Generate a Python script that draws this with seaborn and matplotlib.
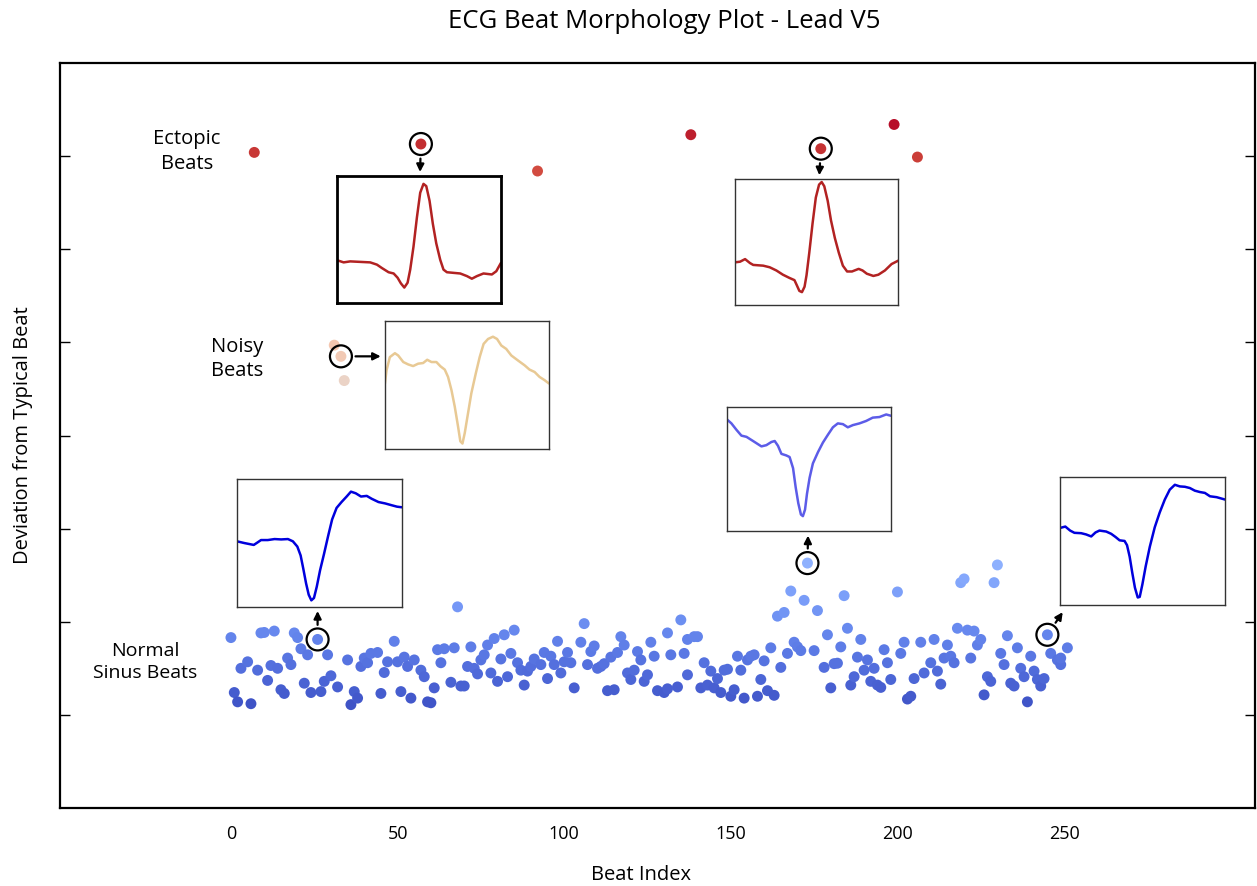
import matplotlib
matplotlib.use("Agg")
import matplotlib.pyplot as plt
import numpy as np
import pandas as pd
import seaborn as sns

# ---------------- data ----------------
normal_beat = [0, 1, 2, 3, 5, 6, 8, 9, 10, 11, 12, 13, 14, 15, 16, 17, 18, 19, 20, 21,
               22, 23, 24, 26, 27, 28, 29, 30, 32, 35, 36, 37, 38, 39, 40, 41, 42, 44, 45, 46,
               47, 49, 50, 51, 52, 53, 54, 55, 57, 58, 59, 60, 61, 62, 63, 64, 66, 67, 68, 69,
               70, 71, 72, 73, 74, 75, 76, 77, 78, 79, 80, 81, 82, 83, 84, 85, 86, 87, 88, 89,
               90, 91, 93, 94, 95, 96, 97, 98, 99, 100, 101, 102, 103, 105, 106, 107, 108, 109, 110, 111,
               112, 113, 114, 115, 116, 117, 118, 119, 120, 121, 122, 123, 124, 125, 126, 127, 128, 130, 131, 131,
               132, 134, 135, 136, 137, 137, 139, 140, 141, 142, 143, 144, 145, 146, 147, 148, 149, 150, 151, 152,
               153, 154, 155, 156, 157, 158, 159, 160, 161, 162, 163, 164, 165, 166, 167, 168, 169, 170, 171, 172,
               173, 175, 176, 178, 179, 180, 181, 182, 183, 184, 185, 186, 187, 188, 189, 190, 191, 192, 193, 194,
               195, 196, 197, 198, 200, 201, 202, 203, 204, 205, 207, 208, 210, 211, 212, 213, 214, 215, 216, 217,
               218, 219, 220, 221, 222, 223, 224, 225, 226, 227, 228, 229, 230, 231, 232, 233, 234, 235, 236, 237,
               238, 239, 240, 241, 242, 243, 244, 245, 246, 248, 249, 249, 251]
normal_dev = [0.83, 0.24, 0.14, 0.50, 0.57, 0.12, 0.48, 0.88, 0.885, 0.37, 0.53, 0.90, 0.50, 0.27, 0.23, 0.61, 0.54, 0.88, 0.83, 0.71,
              0.34, 0.645, 0.24, 0.81, 0.25, 0.36, 0.645, 0.42, 0.30, 0.59, 0.11, 0.25, 0.18, 0.52, 0.61, 0.56, 0.66, 0.67, 0.23, 0.455,
              0.57, 0.79, 0.57, 0.25, 0.62, 0.52, 0.18, 0.59, 0.48, 0.41, 0.14, 0.13, 0.29, 0.70, 0.56, 0.71, 0.35, 0.72, 1.16, 0.31,
              0.31, 0.52, 0.73, 0.50, 0.44, 0.59, 0.645, 0.75, 0.45, 0.82, 0.36, 0.60, 0.86, 0.41, 0.66, 0.91, 0.56, 0.48, 0.32, 0.47,
              0.52, 0.60, 0.54, 0.67, 0.39, 0.63, 0.54, 0.79, 0.45, 0.57, 0.67, 0.56, 0.29, 0.78, 0.98, 0.54, 0.68, 0.74, 0.50, 0.52,
              0.55, 0.26, 0.62, 0.27, 0.67, 0.84, 0.75, 0.45, 0.38, 0.48, 0.68, 0.59, 0.36, 0.43, 0.78, 0.63, 0.26, 0.24, 0.28, 0.88,
              0.645, 0.30, 1.02, 0.66, 0.43, 0.81, 0.84, 0.84, 0.29, 0.56, 0.32, 0.47, 0.29, 0.39, 0.24, 0.48, 0.49, 0.20, 0.27, 0.63,
              0.48, 0.18, 0.59, 0.63, 0.645, 0.20, 0.38, 0.58, 0.26, 0.72, 0.21, 1.06, 0.51, 1.10, 0.66, 1.33, 0.78, 0.73, 0.69, 1.23,
              1.63, 0.69, 1.12, 0.51, 0.86, 0.29, 0.55, 0.555, 0.73, 1.28, 0.93, 0.32, 0.41, 0.62, 0.81, 0.48, 0.59, 0.36, 0.50, 0.32,
              0.295, 0.70, 0.56, 0.38, 1.32, 0.66, 0.78, 0.17, 0.20, 0.39, 0.78, 0.45, 0.56, 0.81, 0.47, 0.33, 0.61, 0.75, 0.63, 0.56,
              0.93, 1.42, 1.46, 0.91, 0.61, 0.90, 0.75, 0.81, 0.215, 0.41, 0.36, 1.42, 1.61, 0.66, 0.54, 0.85, 0.34, 0.31, 0.72, 0.50,
              0.41, 0.14, 0.63, 0.47, 0.38, 0.31, 0.39, 0.86, 0.66, 0.59, 0.54, 0.61, 0.72]

ectopic_beat = [7, 57, 92, 138, 177, 199, 206]
ectopic_dev = [6.04, 6.13, 5.84, 6.23, 6.08, 6.34, 5.99]

noisy_beat = [31, 33, 34]
noisy_dev = [3.97, 3.85, 3.59]

group_labels = ["Ectopic\nBeats", "Noisy\nBeats", "Normal\nSinus Beats"]
x_ticks = [0, 50, 100, 150, 200, 250]

# example waveforms shown in the insets (normalised time / amplitude)
ect1_t = [0.004, 0.041, 0.081, 0.203, 0.244, 0.274, 0.315, 0.346, 0.370, 0.390, 0.411, 0.431, 0.447, 0.467,
          0.488, 0.508, 0.528, 0.545, 0.565, 0.585, 0.606, 0.630, 0.650, 0.671, 0.711, 0.752, 0.793, 0.823,
          0.854, 0.894, 0.945, 0.972, 1.000]
ect1_v = [0.344, 0.328, 0.336, 0.328, 0.310, 0.283, 0.249, 0.239, 0.205, 0.160, 0.126, 0.165, 0.270, 0.454,
          0.690, 0.887, 0.958, 0.940, 0.822, 0.638, 0.480, 0.349, 0.270, 0.249, 0.244, 0.239, 0.218, 0.197,
          0.218, 0.239, 0.231, 0.257, 0.323]

ect2_t = [0.0, 0.030, 0.061, 0.091, 0.111, 0.172, 0.212, 0.253, 0.293, 0.333, 0.364, 0.378, 0.394, 0.410,
          0.426, 0.438, 0.455, 0.475, 0.495, 0.515, 0.531, 0.547, 0.568, 0.588, 0.612, 0.636, 0.661, 0.687,
          0.717, 0.758, 0.782, 0.808, 0.848, 0.879, 0.919, 0.960, 1.0]
ect2_v = [0.346, 0.351, 0.372, 0.340, 0.325, 0.319, 0.306, 0.280, 0.246, 0.220, 0.202, 0.162, 0.115, 0.105,
          0.149, 0.241, 0.424, 0.660, 0.869, 0.974, 0.995, 0.961, 0.843, 0.686, 0.542, 0.424, 0.319, 0.272,
          0.272, 0.293, 0.280, 0.254, 0.236, 0.246, 0.280, 0.332, 0.359]

noisy_t = [0.0, 0.010, 0.030, 0.061, 0.081, 0.112, 0.142, 0.172, 0.203, 0.233, 0.258, 0.284, 0.314, 0.339,
           0.365, 0.385, 0.406, 0.426, 0.446, 0.460, 0.473, 0.487, 0.507, 0.527, 0.554, 0.578, 0.602, 0.629,
           0.659, 0.684, 0.710, 0.740, 0.771, 0.811, 0.852, 0.882, 0.913, 0.943, 0.974, 1.0]
noisy_v = [0.524, 0.628, 0.733, 0.764, 0.746, 0.694, 0.675, 0.662, 0.681, 0.686, 0.712, 0.694, 0.694, 0.660,
           0.634, 0.576, 0.471, 0.340, 0.183, 0.065, 0.047, 0.131, 0.288, 0.445, 0.602, 0.733, 0.838, 0.877,
           0.895, 0.877, 0.825, 0.798, 0.746, 0.707, 0.668, 0.634, 0.615, 0.576, 0.550, 0.524]

norm_mid_t = [0.0, 0.026, 0.057, 0.087, 0.118, 0.158, 0.209, 0.239, 0.270, 0.290, 0.310, 0.331, 0.361, 0.381,
              0.402, 0.418, 0.434, 0.450, 0.462, 0.475, 0.487, 0.503, 0.523, 0.554, 0.584, 0.615, 0.645, 0.675,
              0.706, 0.736, 0.767, 0.807, 0.848, 0.888, 0.929, 0.970, 1.0]
norm_mid_v = [0.914, 0.883, 0.830, 0.783, 0.773, 0.739, 0.695, 0.705, 0.731, 0.739, 0.700, 0.634, 0.621, 0.608,
              0.517, 0.360, 0.230, 0.138, 0.125, 0.178, 0.308, 0.439, 0.556, 0.648, 0.726, 0.791, 0.851, 0.883,
              0.877, 0.851, 0.869, 0.883, 0.903, 0.930, 0.935, 0.956, 0.945]

norm_left_t = [0.0, 0.045, 0.102, 0.126, 0.146, 0.187, 0.228, 0.268, 0.309, 0.339, 0.366, 0.386, 0.402, 0.419,
               0.435, 0.451, 0.467, 0.484, 0.504, 0.528, 0.553, 0.577, 0.604, 0.634, 0.665, 0.691, 0.720, 0.752,
               0.787, 0.817, 0.858, 0.898, 0.939, 0.970, 1.0]
norm_left_v = [0.524, 0.510, 0.495, 0.516, 0.534, 0.534, 0.542, 0.539, 0.542, 0.524, 0.482, 0.411, 0.306, 0.188,
               0.097, 0.052, 0.071, 0.162, 0.293, 0.424, 0.568, 0.699, 0.791, 0.838, 0.882, 0.921, 0.908, 0.882,
               0.887, 0.864, 0.838, 0.827, 0.812, 0.801, 0.796]

norm_right_t = [0.0, 0.032, 0.061, 0.087, 0.128, 0.158, 0.189, 0.215, 0.239, 0.280, 0.310, 0.337, 0.361, 0.391,
                0.406, 0.422, 0.438, 0.454, 0.471, 0.483, 0.499, 0.519, 0.544, 0.574, 0.604, 0.635, 0.665, 0.696,
                0.726, 0.757, 0.787, 0.817, 0.848, 0.878, 0.909, 0.949, 1.0]
norm_right_v = [0.616, 0.627, 0.595, 0.577, 0.574, 0.564, 0.548, 0.580, 0.595, 0.587, 0.569, 0.543, 0.517, 0.512,
                0.478, 0.386, 0.256, 0.138, 0.060, 0.065, 0.164, 0.308, 0.465, 0.621, 0.739, 0.843, 0.922, 0.961,
                0.948, 0.945, 0.935, 0.914, 0.903, 0.896, 0.869, 0.862, 0.843]

# ---------------- build table ----------------
df = pd.DataFrame({
    "beat": normal_beat + ectopic_beat + noisy_beat,
    "dev": normal_dev + ectopic_dev + noisy_dev,
    "kind": ["normal"] * len(normal_beat) + ["ectopic"] * len(ectopic_beat) + ["noisy"] * len(noisy_beat),
})

sns.set_style("white")
plt.rcParams["font.family"] = ["Open Sans", "DejaVu Sans"]
plt.rcParams["text.color"] = "black"
plt.rcParams["axes.labelcolor"] = "black"
plt.rcParams["xtick.color"] = "black"
plt.rcParams["ytick.color"] = "black"

W, H = 1257, 886
fig = plt.figure(figsize=(W / 100, H / 100), dpi=100)
ax = fig.add_axes([60 / W, 1 - 808 / H, (1255 - 60) / W, (808 - 63) / H])

sns.scatterplot(data=df, x="beat", y="dev", hue="dev", palette="coolwarm",
                hue_norm=(0, 6.4), s=62, edgecolor="none", linewidth=0,
                legend=False, ax=ax, zorder=3)

ax.set_xlim(-51.3, 307.3)
ax.set_ylim(-1, 7)
ax.set_xticks(x_ticks)
ax.set_yticks(range(7))
ax.set_yticklabels([])
ax.tick_params(axis="y", direction="in", length=7, width=1, left=True, right=True)
ax.tick_params(axis="x", direction="in", length=0, bottom=True, labelsize=13, pad=12)
for sp in ax.spines.values():
    sp.set_linewidth(1.6)
    sp.set_color("black")

ax.set_xlabel("Beat Index", fontsize=14.5)
ax.xaxis.set_label_coords(0.486, -0.076)
ax.set_ylabel("Deviation from Typical Beat", fontsize=14.5, labelpad=16)
ax.set_title("ECG Beat Morphology Plot - Lead V5", fontsize=18.5, x=0.506, pad=25)

# group labels
ax.text(-13.2, 6.05, group_labels[0], ha="center", va="center", fontsize=14.5, linespacing=1.3)
ax.text(1.8, 3.82, group_labels[1], ha="center", va="center", fontsize=14.5, linespacing=1.3)
ax.text(-25.8, 0.57, group_labels[2], ha="center", va="center", fontsize=14, linespacing=1.3)

# ---------------- insets ----------------
insets = [
    # (bounds in data coords, t, v, colour, border width, border colour, highlighted beat, kind, arrow target)
    ([31.8, 4.42, 49.2, 1.365], ect1_t, ect1_v, "#b22222", 2.0, "black", 57, "ectopic", (56.7, 5.785)),
    ([151.3, 4.40, 48.9, 1.355], ect2_t, ect2_v, "#b22222", 1.0, "#333333", 177, "ectopic", (176.5, 5.75)),
    ([46.2, 2.85, 49.2, 1.38], noisy_t, noisy_v, "#e8c994", 1.0, "#333333", 33, "noisy", (46.2, 3.85)),
    ([148.9, 1.97, 49.2, 1.34], norm_mid_t, norm_mid_v, "#5c5ce8", 1.0, "#333333", 173, "normal", (173.2, 1.97)),
    ([1.8, 1.16, 49.5, 1.37], norm_left_t, norm_left_v, "#0000dd", 1.0, "#333333", 26, "normal", (26.0, 1.16)),
    ([248.8, 1.18, 49.5, 1.37], norm_right_t, norm_right_v, "#0000dd", 1.0, "#333333", 245, "normal", (250.3, 1.14)),
]

for bounds, t, v, col, bw, bc, hb, kind, target in insets:
    ia = ax.inset_axes(bounds, transform=ax.transData, zorder=5)
    sns.lineplot(x=t, y=v, ax=ia, color=col, linewidth=1.8, sort=False)
    ia.set_xlim(0, 1)
    ia.set_ylim(0.0, 1.02)
    ia.set_xticks([])
    ia.set_yticks([])
    ia.set_facecolor("white")
    for sp in ia.spines.values():
        sp.set_linewidth(bw)
        sp.set_color(bc)
    sub = df[(df["beat"] == hb) & (df["kind"] == kind)].iloc[0]
    ax.scatter([sub["beat"]], [sub["dev"]], s=250, facecolors="none",
               edgecolors="black", linewidths=1.6, zorder=6)
    ax.annotate("", xy=target, xytext=(sub["beat"], sub["dev"]),
                arrowprops=dict(arrowstyle="-|>", color="black", lw=1.6,
                                shrinkA=10.5, shrinkB=3, mutation_scale=11),
                zorder=6)

fig.savefig("out.png", dpi=100, facecolor="white")
